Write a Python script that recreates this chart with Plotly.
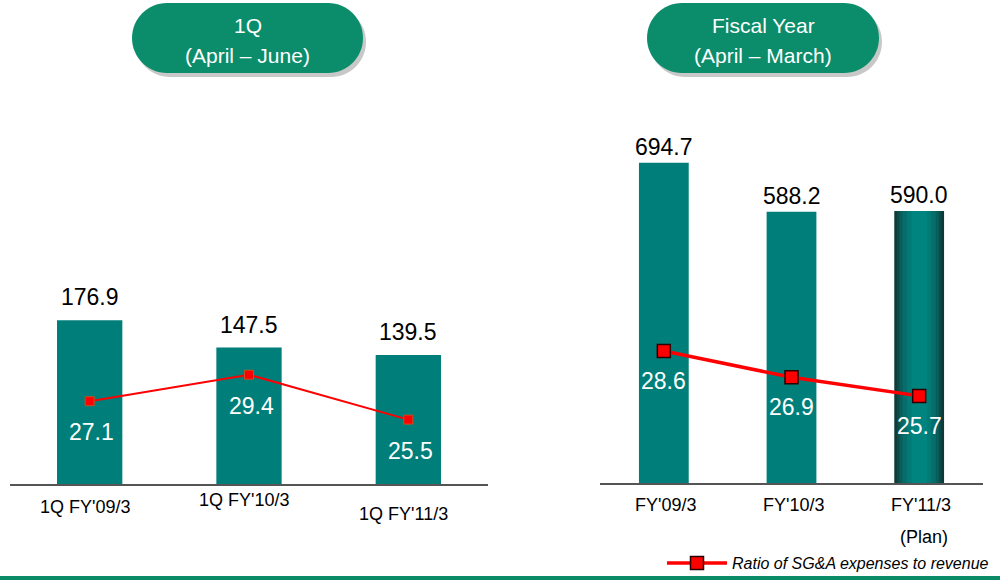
import plotly.graph_objects as go

# ---------------- data ----------------
q_categories = ["1Q FY'09/3", "1Q FY'10/3", "1Q FY'11/3"]
q_sga = [176.9, 147.5, 139.5]
q_ratio = [27.1, 29.4, 25.5]

fy_categories = ["FY'09/3", "FY'10/3", "FY'11/3"]
fy_sga = [694.7, 588.2, 590.0]
fy_ratio = [28.6, 26.9, 25.7]
fy_note = ["", "", "(Plan)"]

q_header = ["1Q", "(April – June)"]
fy_header = ["Fiscal Year", "(April – March)"]
legend_label = "Ratio of SG&A expenses to revenue"

# ---------------- style ----------------
W, H = 1000, 580
FONT = "Arial, 'Liberation Sans', sans-serif"
TEAL = "#007f7a"
PILL = "#0b8d6b"
RED = "#ff0000"


def px(x):
    return x / W


def py(y):
    return 1 - y / H


fig = go.Figure()

# Left panel bars
fig.add_trace(go.Bar(x=q_categories, y=q_sga, width=0.41, marker=dict(color=TEAL, line=dict(width=0)),
                     xaxis="x", yaxis="y", showlegend=False, hoverinfo="skip"))
# Right panel bars (third one is dark-edged / gradient)
fig.add_trace(go.Bar(x=fy_categories, y=fy_sga, width=0.39,
                     marker=dict(color=[TEAL, TEAL, "#0c3a39"], line=dict(width=0)),
                     xaxis="x2", yaxis="y3", showlegend=False, hoverinfo="skip"))
grad_layers = [(0.35, "#0c4a48"), (0.31, "#095d5a"), (0.26, "#066e6a"), (0.19, "#027a76"), (0.12, "#008480")]
for w, c in grad_layers:
    fig.add_trace(go.Bar(x=fy_categories[2:], y=fy_sga[2:], width=w, marker=dict(color=c, line=dict(width=0)),
                         xaxis="x2", yaxis="y3", showlegend=False, hoverinfo="skip"))

# Ratio lines
fig.add_trace(go.Scatter(x=q_categories, y=q_ratio, mode="lines+markers", xaxis="x", yaxis="y2",
                         line=dict(color=RED, width=2),
                         marker=dict(symbol="square", size=9, color=RED, line=dict(color="#c8501e", width=1)),
                         showlegend=False, hoverinfo="skip"))
fig.add_trace(go.Scatter(x=fy_categories, y=fy_ratio, mode="lines+markers", xaxis="x2", yaxis="y4",
                         line=dict(color=RED, width=3.5),
                         marker=dict(symbol="square", size=13, color=RED, line=dict(color="#2a0000", width=1.5)),
                         name=legend_label, showlegend=True, hoverinfo="skip"))

annotations = []
# value labels
for c, v in zip(q_categories, q_sga):
    annotations.append(dict(x=c, y=v, xref="x", yref="y", text=f"{v:.1f}", showarrow=False,
                            yshift=23, font=dict(size=23, color="#000", family=FONT)))
for c, v in zip(fy_categories, fy_sga):
    annotations.append(dict(x=c, y=v, xref="x2", yref="y3", text=f"{v:.1f}", showarrow=False,
                            yshift=16, font=dict(size=23, color="#000", family=FONT)))
for c, v in zip(q_categories, q_ratio):
    annotations.append(dict(x=c, y=v, xref="x", yref="y2", text=f"{v:.1f}", showarrow=False,
                            yshift=-31, xshift=2, font=dict(size=23, color="#fff", family=FONT)))
for c, v in zip(fy_categories, fy_ratio):
    annotations.append(dict(x=c, y=v, xref="x2", yref="y4", text=f"{v:.1f}", showarrow=False,
                            yshift=-30, font=dict(size=23, color="#fff", family=FONT)))

# category labels
q_label_dy = [0, -7, 7]
for c, dy in zip(q_categories, q_label_dy):
    annotations.append(dict(x=c, y=py(507 + dy), xref="x", yref="paper", text=c, showarrow=False,
                            xanchor="center", yanchor="middle", xshift=-5,
                            font=dict(size=18, color="#000", family=FONT)))
for c, n in zip(fy_categories, fy_note):
    annotations.append(dict(x=c, y=py(505), xref="x2", yref="paper", text=c, showarrow=False,
                            xanchor="center", yanchor="middle", xshift=2,
                            font=dict(size=18, color="#000", family=FONT)))
    if n:
        annotations.append(dict(x=c, y=py(537), xref="x2", yref="paper", text=n, showarrow=False,
                                xanchor="center", yanchor="middle", xshift=5,
                                font=dict(size=18, color="#000", family=FONT)))

# header pills
shapes = []


def pill(x0, y0, x1, y1, color):
    r = (y1 - y0) / 2
    k = 0.5523 * r
    pts = [
        f"M {px(x0 + r)},{py(y0)}",
        f"L {px(x1 - r)},{py(y0)}",
        f"C {px(x1 - r + k)},{py(y0)} {px(x1)},{py(y0 + r - k)} {px(x1)},{py(y0 + r)}",
        f"C {px(x1)},{py(y0 + r + k)} {px(x1 - r + k)},{py(y1)} {px(x1 - r)},{py(y1)}",
        f"L {px(x0 + r)},{py(y1)}",
        f"C {px(x0 + r - k)},{py(y1)} {px(x0)},{py(y0 + r + k)} {px(x0)},{py(y0 + r)}",
        f"C {px(x0)},{py(y0 + r - k)} {px(x0 + r - k)},{py(y0)} {px(x0 + r)},{py(y0)} Z",
    ]
    return dict(type="path", xref="paper", yref="paper", path=" ".join(pts),
                fillcolor=color, line=dict(width=0), layer="below")


for (x0, x1), lines in [((132, 363), q_header), ((647, 879), fy_header)]:
    shapes.append(pill(x0 + 3, 3 + 4, x1 + 3, 73 + 4, "#c8c8c8"))
    shapes.append(pill(x0, 3, x1, 73, PILL))
    cx = (x0 + x1) / 2
    for txt, yy in zip(lines, [26, 56]):
        annotations.append(dict(x=px(cx), y=py(yy), xref="paper", yref="paper", text=txt, showarrow=False,
                                xanchor="center", yanchor="middle",
                                font=dict(size=21, color="#fff", family=FONT)))

# bottom green rule
shapes.append(dict(type="rect", xref="paper", yref="paper", x0=0, x1=1, y0=0, y1=py(576),
                   fillcolor="#0a8a66", line=dict(width=0)))

axis_common = dict(showgrid=False, zeroline=False, ticks="", fixedrange=True)
fig.update_layout(
    width=W, height=H,
    margin=dict(l=0, r=0, t=0, b=0),
    paper_bgcolor="#fff", plot_bgcolor="rgba(0,0,0,0)",
    barmode="overlay",
    font=dict(family=FONT),
    xaxis=dict(domain=[px(10), px(488)], anchor="y", range=[-0.5, 2.5], showticklabels=False,
               showline=True, linecolor="#555", linewidth=1.5, **axis_common),
    yaxis=dict(domain=[py(484), py(100)], range=[0, 384 / 0.925], visible=False, **axis_common),
    yaxis2=dict(overlaying="y", anchor="x", range=[19.9, 19.9 + 384 / 11.5], visible=False, **axis_common),
    xaxis2=dict(domain=[px(600), px(983)], anchor="y3", range=[-0.5, 2.5], showticklabels=False,
                showline=True, linecolor="#555", linewidth=1.5, **axis_common),
    yaxis3=dict(domain=[py(483), py(100)], anchor="x2", range=[0, 383 / 0.461], visible=False, **axis_common),
    yaxis4=dict(overlaying="y3", anchor="x2", range=[20.08, 20.08 + 383 / 15.5], visible=False, **axis_common),
    legend=dict(x=px(662), y=py(563), xanchor="left", yanchor="middle", bgcolor="rgba(0,0,0,0)",
                font=dict(size=16, color="#000", family=FONT, style="italic"), itemwidth=60),
    annotations=annotations,
    shapes=shapes,
)

fig.write_html("out.html", config={"displayModeBar": False},
               post_script="document.body.style.margin='0';document.body.style.overflow='hidden';")
